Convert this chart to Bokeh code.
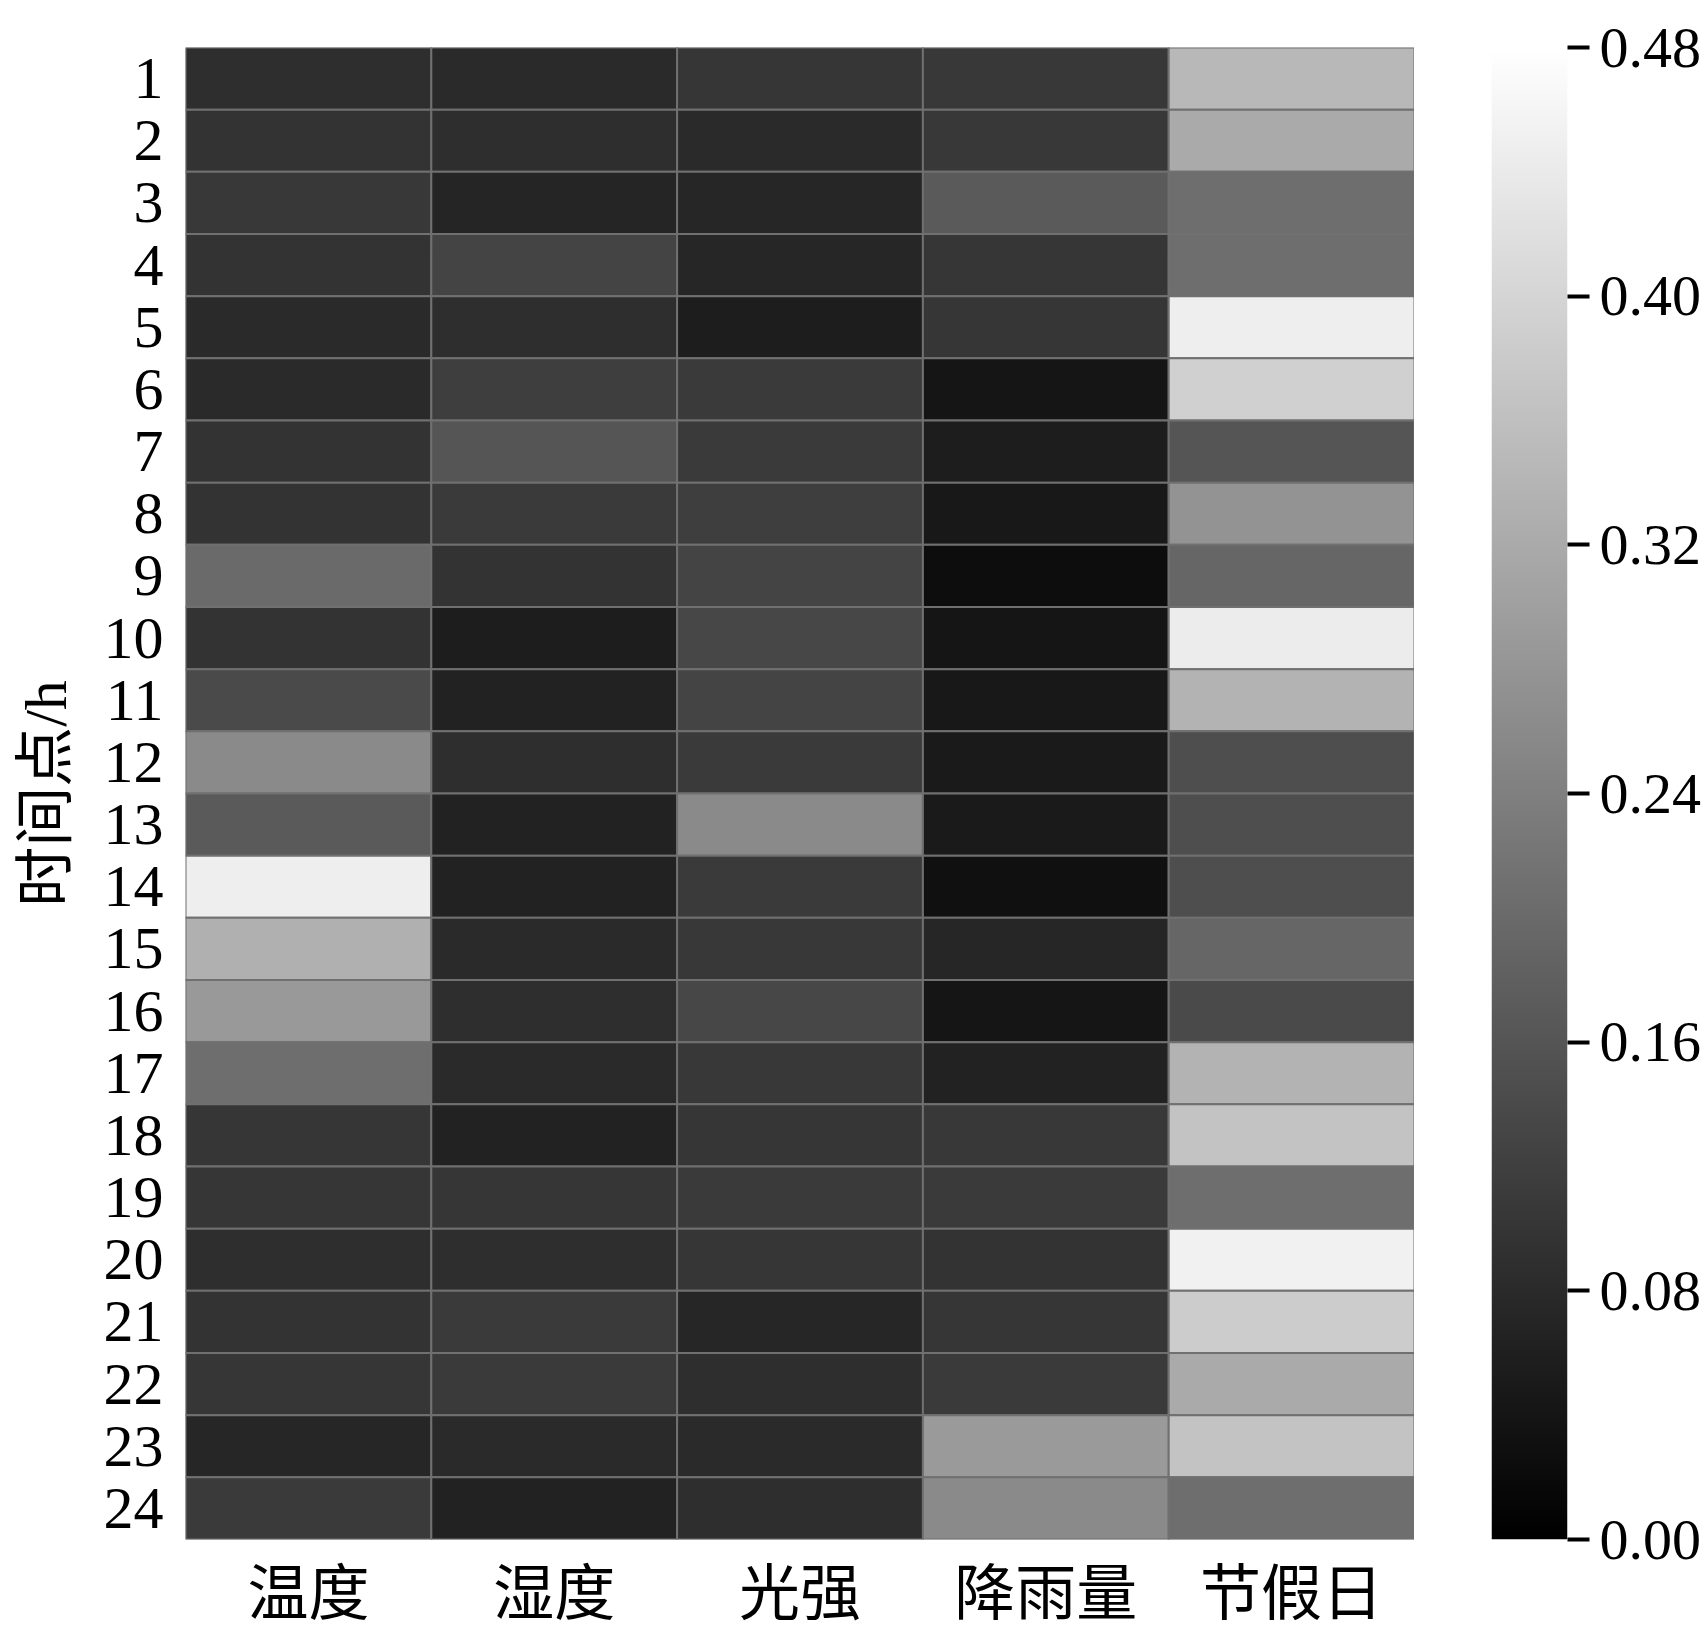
import numpy as np
from bokeh.plotting import figure
from bokeh.layouts import row
from bokeh.models import ColumnDataSource, LinearColorMapper, FactorRange, Range1d, LinearAxis, FixedTicker, NumeralTickFormatter
from bokeh.transform import transform
from bokeh.embed import file_html
from bokeh.resources import INLINE

features = ["温度", "湿度", "光强", "降雨量", "节假日"]
hours = [str(i) for i in range(1, 25)]

temp = [0.087, 0.096, 0.105, 0.096, 0.079, 0.079, 0.096, 0.096, 0.200, 0.096, 0.139, 0.260,
        0.169, 0.448, 0.331, 0.288, 0.207, 0.102, 0.102, 0.087, 0.096, 0.102, 0.072, 0.109]
humidity = [0.079, 0.087, 0.070, 0.128, 0.087, 0.117, 0.160, 0.109, 0.096, 0.056, 0.064, 0.087,
            0.064, 0.064, 0.079, 0.087, 0.079, 0.064, 0.102, 0.087, 0.109, 0.109, 0.079, 0.064]
light = [0.102, 0.079, 0.072, 0.072, 0.056, 0.109, 0.109, 0.117, 0.128, 0.134, 0.128, 0.109,
         0.260, 0.109, 0.105, 0.134, 0.105, 0.102, 0.109, 0.102, 0.072, 0.087, 0.079, 0.087]
rain = [0.105, 0.105, 0.169, 0.102, 0.102, 0.040, 0.056, 0.045, 0.026, 0.040, 0.045, 0.049,
        0.049, 0.030, 0.072, 0.041, 0.064, 0.105, 0.109, 0.096, 0.102, 0.109, 0.290, 0.260]
holiday = [0.346, 0.320, 0.207, 0.207, 0.448, 0.390, 0.160, 0.277, 0.192, 0.444, 0.337, 0.147,
           0.147, 0.147, 0.192, 0.139, 0.337, 0.367, 0.207, 0.452, 0.384, 0.320, 0.367, 0.207]
cbar_ticks = [0.00, 0.08, 0.16, 0.24, 0.32, 0.40, 0.48]

series = [temp, humidity, light, rain, holiday]
xs, ys, vs = [], [], []
for f, vals in zip(features, series):
    for h, v in zip(hours, vals):
        xs.append(f)
        ys.append(h)
        vs.append(v)
src = ColumnDataSource(dict(x=xs, y=ys, v=vs))

grays = ["#%02x%02x%02x" % (i, i, i) for i in range(256)]
mapper = LinearColorMapper(palette=grays, low=0.0, high=0.48)

H = 1630
TOP = 47
FH = 1495
BOT = H - TOP - FH
LEFT = 185
FW = 1229

serif = "Liberation Serif"
mixed = "Liberation Serif, Noto Sans CJK SC"

p = figure(width=LEFT + FW, height=H, x_range=FactorRange(*features),
           y_range=FactorRange(*list(reversed(hours))),
           output_backend="svg", toolbar_location=None)
p.min_border_left = LEFT
p.min_border_right = 0
p.min_border_top = TOP
p.min_border_bottom = BOT
p.outline_line_color = None
p.grid.visible = False
p.rect(x="x", y="y", width=1, height=1, source=src,
       fill_color=transform("v", mapper), line_color="#707070", line_width=2)

p.yaxis.axis_label = "时间点/h"
p.yaxis.axis_label_text_font = mixed
p.yaxis.axis_label_text_font_size = "60px"
p.yaxis.axis_label_text_font_style = "normal"
p.yaxis.axis_label_standoff = 22
p.yaxis.major_label_text_font = serif
p.yaxis.major_label_text_font_size = "60px"
p.yaxis.major_label_standoff = 22
p.xaxis.major_label_text_font = mixed
p.xaxis.major_label_text_font_size = "61px"
p.xaxis.major_label_standoff = 21
for ax in (p.xaxis, p.yaxis):
    ax.axis_line_color = None
    ax.major_tick_line_color = None
    ax.minor_tick_line_color = None
    ax.major_tick_out = 0
    ax.major_tick_in = 0
    ax.minor_tick_out = 0
    ax.minor_tick_in = 0
    ax.major_label_text_color = "black"
    ax.axis_label_text_color = "black"

# colour bar as its own small figure
CW = 1705 - (LEFT + FW)
c = figure(width=CW, height=H, x_range=Range1d(0, 1), y_range=Range1d(0, 0.48),
           output_backend="svg", toolbar_location=None,
           x_axis_location=None, y_axis_location=None)
c.min_border_left = 77
c.min_border_right = CW - 77 - 76
c.min_border_top = TOP
c.min_border_bottom = BOT
c.outline_line_color = None
c.grid.visible = False
grad = np.linspace(0.0, 0.48, 256).reshape(256, 1)
c.image(image=[grad], x=0, y=0, dw=1, dh=0.48, color_mapper=mapper)
ax = LinearAxis(ticker=FixedTicker(ticks=cbar_ticks), formatter=NumeralTickFormatter(format="0.00"))
ax.axis_line_color = None
ax.major_tick_in = 0
ax.major_tick_out = 22
ax.major_tick_line_width = 4
ax.major_tick_line_color = "black"
ax.minor_tick_line_color = None
ax.minor_tick_out = 0
ax.minor_tick_in = 0
ax.major_label_standoff = 10
ax.major_label_text_font = serif
ax.major_label_text_font_size = "58px"
ax.major_label_text_color = "black"
c.add_layout(ax, "right")

layout = row(p, c)
open("out.html", "w").write(file_html(layout, INLINE))
